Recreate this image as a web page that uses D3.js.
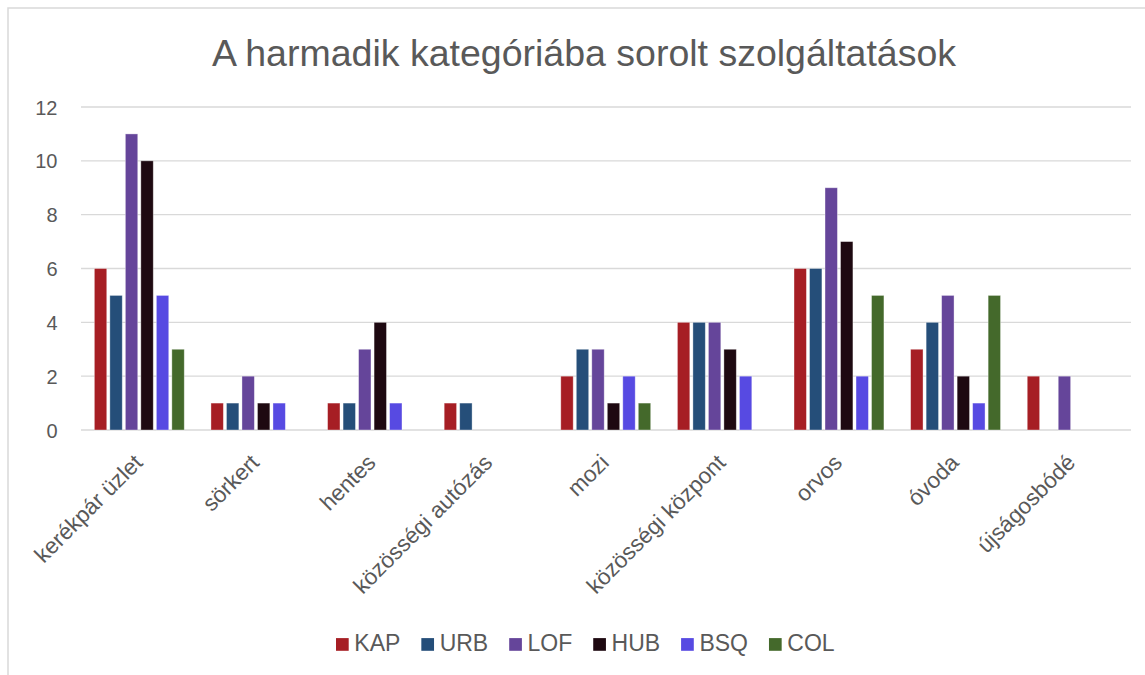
<!DOCTYPE html>
<html><head><meta charset="utf-8">
<script src="https://cdn.jsdelivr.net/npm/d3@7"></script>
<style>body{margin:0;background:#fff}svg{display:block}text{font-family:"Liberation Sans",Arial,sans-serif}</style>
</head><body><svg id="c" width="1145" height="675"></svg>
<script>
const categories = ["kerékpár üzlet","sörkert","hentes","közösségi autózás","mozi","közösségi központ","orvos","óvoda","újságosbódé"];
const series = ["KAP","URB","LOF","HUB","BSQ","COL"];
const colors = ["#A61E24","#254E79","#65459A","#1E0911","#574AE2","#44692B"];
const KAP = [6,1,1,1,2,4,6,3,2];
const URB = [5,1,1,1,3,4,6,4,0];
const LOF = [11,2,3,0,3,4,9,5,2];
const HUB = [10,1,4,0,1,3,7,2,0];
const BSQ = [5,1,1,0,2,2,2,1,0];
const COL = [3,0,0,0,1,0,5,5,0];
const yTicks = [0,2,4,6,8,10,12];
const values = [KAP,URB,LOF,HUB,BSQ,COL];
const title = "A harmadik kategóriába sorolt szolgáltatások";

const svg = d3.select("#c");
svg.append("rect").attr("x",8).attr("y",8).attr("width",1160).attr("height",700)
  .attr("fill","#fff").attr("stroke","#d9d9d9").attr("stroke-width",1.5);

const x0 = d3.scaleBand().domain(categories).range([81,1130.5]).paddingInner(0.229).paddingOuter(0.1145);
const x1 = d3.scaleBand().domain(series).range([0,x0.bandwidth()]).paddingInner(0.2);
const y = d3.scaleLinear().domain([0,12]).range([430,107]);

svg.append("text").attr("x",584).attr("y",66).attr("text-anchor","middle")
  .attr("font-size",37.5).attr("fill","#595959").text(title);

const grid = svg.append("g");
grid.selectAll("line").data(yTicks).join("line")
  .attr("x1",81).attr("x2",1131).attr("y1",d=>y(d)).attr("y2",d=>y(d))
  .attr("stroke","#d9d9d9").attr("stroke-width",1.3);

const yAxis = d3.axisLeft(y).tickValues(yTicks).tickSize(0).tickPadding(0);
const ya = svg.append("g").attr("transform","translate(57.5,0)").call(yAxis);
ya.select(".domain").remove();
ya.selectAll("text").attr("font-size",20).attr("fill","#595959").attr("dy","0.35em");

const groups = svg.append("g").selectAll("g").data(categories).join("g")
  .attr("transform",d=>`translate(${x0(d)},0)`);
groups.selectAll("rect").data((c,i)=>series.map((s,j)=>({s,j,v:values[j][i]})).filter(d=>d.v>0))
  .join("rect")
  .attr("x",d=>x1(d.s)).attr("width",x1.bandwidth())
  .attr("y",d=>y(d.v)).attr("height",d=>y(0)-y(d.v))
  .attr("fill",d=>colors[d.j]).attr("stroke","rgba(255,255,255,0.45)").attr("stroke-width",0.8);

const xAxis = d3.axisBottom(x0).tickSize(0).tickPadding(0);
const xa = svg.append("g").attr("transform","translate(0,430)").call(xAxis);
xa.select(".domain").remove();
xa.selectAll("text").attr("font-size",22.5).attr("fill","#595959")
  .attr("text-anchor","end").attr("dy",0).attr("y",0)
  .attr("transform","translate(4.5,34) rotate(-45)");

const leg = svg.append("g");
let lx = 0;
series.forEach((s,i)=>{
  const g = leg.append("g").attr("transform",`translate(${lx},0)`);
  g.append("rect").attr("x",0).attr("y",-6.3).attr("width",12.7).attr("height",12.7).attr("fill",colors[i]);
  const t = g.append("text").attr("x",18.3).attr("y",6.9).attr("font-size",23).attr("fill","#595959").text(s);
  lx += 18.3 + t.node().getComputedTextLength() + 21;
});
leg.attr("transform",`translate(336,644.4)`);
</script></body></html>
